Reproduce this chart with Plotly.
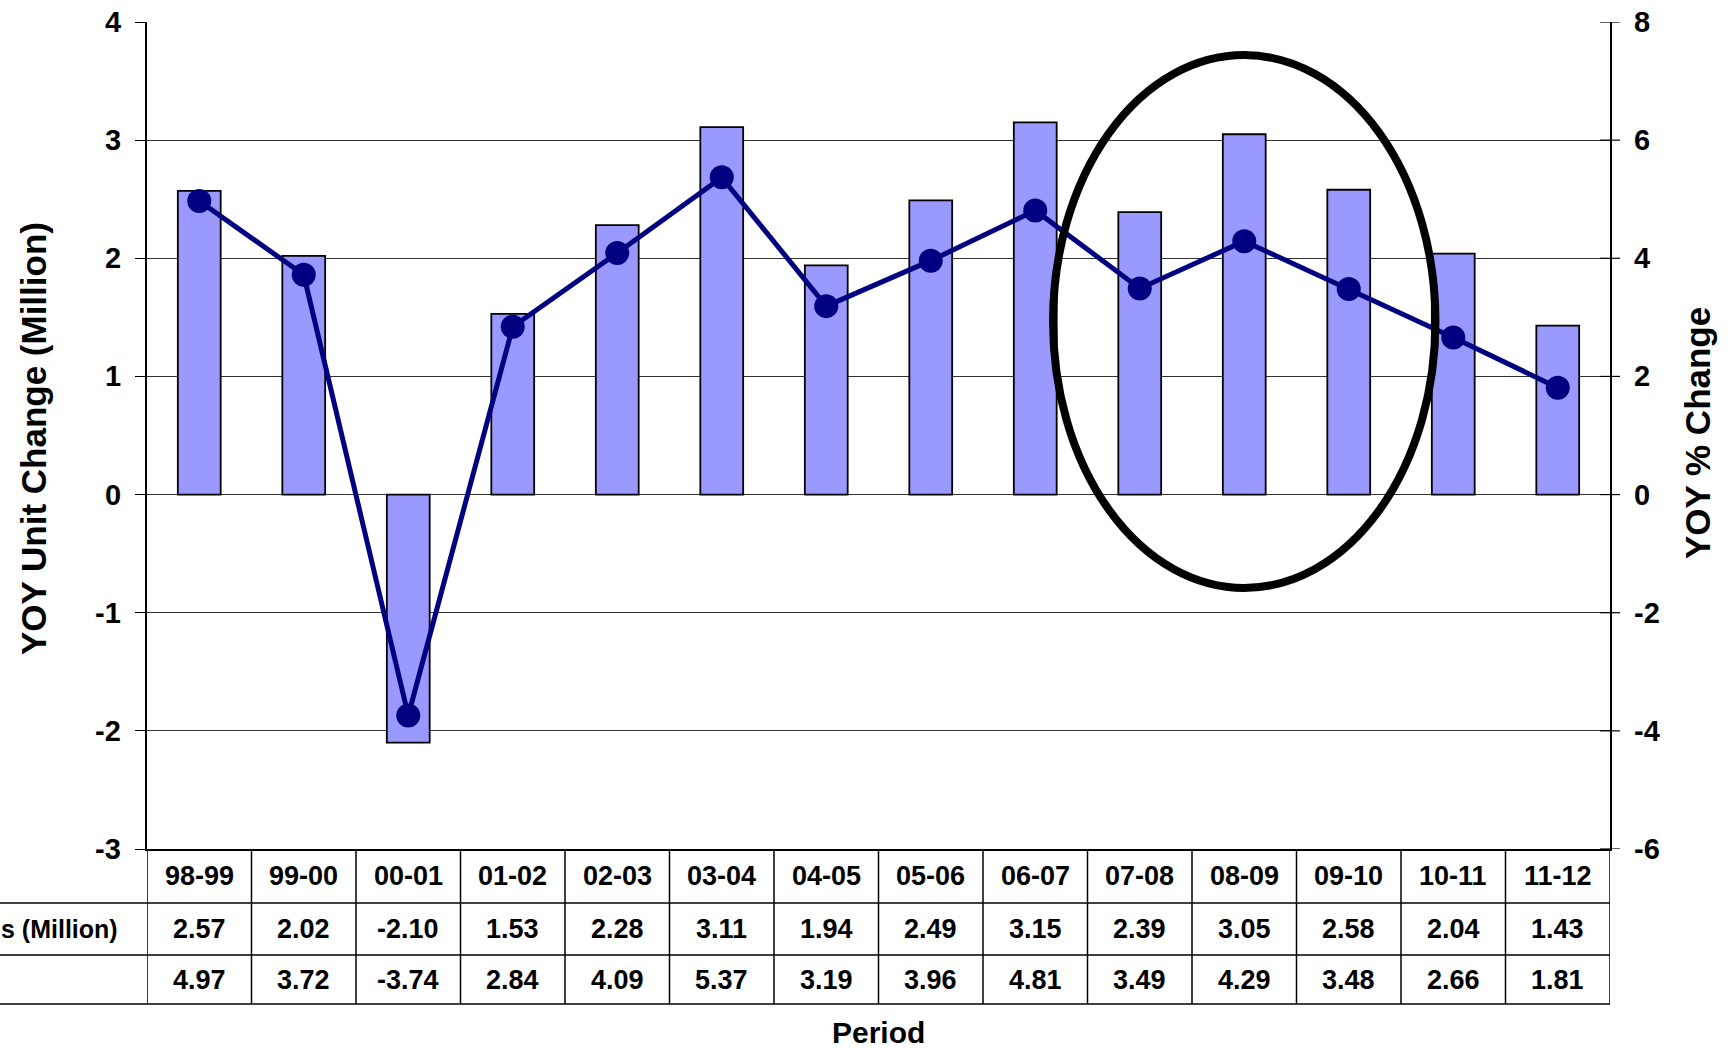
import plotly.graph_objects as go

periods = ["98-99", "99-00", "00-01", "01-02", "02-03", "03-04", "04-05",
           "05-06", "06-07", "07-08", "08-09", "09-10", "10-11", "11-12"]
unit_change = [2.57, 2.02, -2.10, 1.53, 2.28, 3.11, 1.94, 2.49, 3.15, 2.39, 3.05, 2.58, 2.04, 1.43]
pct_change = [4.97, 3.72, -3.74, 2.84, 4.09, 5.37, 3.19, 3.96, 4.81, 3.49, 4.29, 3.48, 2.66, 1.81]
left_ticks = [-3, -2, -1, 0, 1, 2, 3, 4]
right_ticks = [-6, -4, -2, 0, 2, 4, 6, 8]
row_label_units = "s (Million)"

W, H = 1731, 1048
L, R, T, B = 147, 1610, 22, 849
pw, ph = R - L, B - T


def py(pix):
    return (B - pix) / ph


def px(pix):
    return (pix - L) / pw


FONT = "Liberation Sans, Arial, sans-serif"

fig = go.Figure()
fig.add_trace(go.Bar(
    x=list(range(len(periods))), y=unit_change, width=0.41,
    marker=dict(color="#9999FF", line=dict(color="black", width=1.8)),
    yaxis="y", showlegend=False))
fig.add_trace(go.Scatter(
    x=list(range(len(periods))), y=pct_change, mode="lines+markers",
    line=dict(color="#000080", width=5),
    marker=dict(color="#000080", size=24),
    yaxis="y2", showlegend=False, cliponaxis=False))

shapes = []
shapes.append(dict(type="circle", xref="x", yref="y", x0=8.17, x1=11.83, y0=-0.79, y1=3.72,
                   line=dict(color="black", width=8)))
for r in [903, 955, 1004]:
    shapes.append(dict(type="line", xref="paper", yref="paper", x0=px(0), x1=1,
                       y0=py(r), y1=py(r), line=dict(color="black", width=1.5)))
for i in range(len(periods) + 1):
    shapes.append(dict(type="line", xref="x", yref="paper", x0=i - 0.5, x1=i - 0.5,
                       y0=0, y1=py(1004), line=dict(color="black", width=1.5)))
for v in right_ticks:
    shapes.append(dict(type="line", xref="paper", yref="y2", x0=px(1600), x1=px(1620),
                       y0=v, y1=v, line=dict(color="black", width=1.2)))

annotations = []
tf = dict(family=FONT, size=27, color="black", weight=700)
for i, p in enumerate(periods):
    annotations.append(dict(x=i, y=py(876), xref="x", yref="paper", text=p,
                            showarrow=False, font=tf, xanchor="center", yanchor="middle"))
    annotations.append(dict(x=i, y=py(929), xref="x", yref="paper", text="%.2f" % unit_change[i],
                            showarrow=False, font=tf, xanchor="center", yanchor="middle"))
    annotations.append(dict(x=i, y=py(980), xref="x", yref="paper", text="%.2f" % pct_change[i],
                            showarrow=False, font=tf, xanchor="center", yanchor="middle"))
annotations.append(dict(x=px(120), y=py(929), xref="paper", yref="paper", text=row_label_units,
                        showarrow=False, font=dict(family=FONT, size=25, color="black", weight=700),
                        xanchor="right", yanchor="middle"))
annotations.append(dict(x=0.5, y=py(1032), xref="paper", yref="paper", text="Period",
                        showarrow=False, font=dict(family=FONT, size=30, color="black", weight=700),
                        xanchor="center", yanchor="middle"))
annotations.append(dict(x=px(33), y=py(439), xref="paper", yref="paper", text="YOY Unit Change (Million)",
                        showarrow=False, font=dict(family=FONT, size=35, color="black", weight=700),
                        textangle=-90, xanchor="center", yanchor="middle"))
annotations.append(dict(x=px(1697), y=py(433), xref="paper", yref="paper", text="YOY % Change",
                        showarrow=False, font=dict(family=FONT, size=35, color="black", weight=700),
                        textangle=-90, xanchor="center", yanchor="middle"))

tickfont = dict(family=FONT, size=29, color="black", weight=700)
for v in left_ticks:
    annotations.append(dict(x=px(123), y=v, xref="paper", yref="y", text="<b>%d</b>" % v,
                            showarrow=False, font=tickfont, xanchor="right", yanchor="middle"))
for v in right_ticks:
    annotations.append(dict(x=px(1632), y=v, xref="paper", yref="y2", text="<b>%d</b>" % v,
                            showarrow=False, font=tickfont, xanchor="left", yanchor="middle"))

fig.update_layout(
    width=W, height=H,
    margin=dict(l=L, r=W - R, t=T, b=H - B, pad=0),
    paper_bgcolor="white", plot_bgcolor="white",
    font=dict(family=FONT, size=28, color="black"),
    xaxis=dict(range=[-0.5, 13.5], showticklabels=False, showgrid=False, zeroline=False,
               showline=True, linecolor="black", linewidth=1.5, ticks=""),
    yaxis=dict(range=[-3, 4], tickvals=left_ticks, showticklabels=False,
               showgrid=True, gridcolor="#333333", gridwidth=1, automargin=False,
               zeroline=False, showline=True, linecolor="black", linewidth=1.5,
               ticks="outside", ticklen=10, tickcolor="black"),
    yaxis2=dict(range=[-6, 8], tickvals=right_ticks, showticklabels=False,
                overlaying="y", side="right", showgrid=False, automargin=False,
                zeroline=False, showline=True, linecolor="black", linewidth=1.5, ticks=""),
    shapes=shapes, annotations=annotations,
)

fig.write_html("out.html")
